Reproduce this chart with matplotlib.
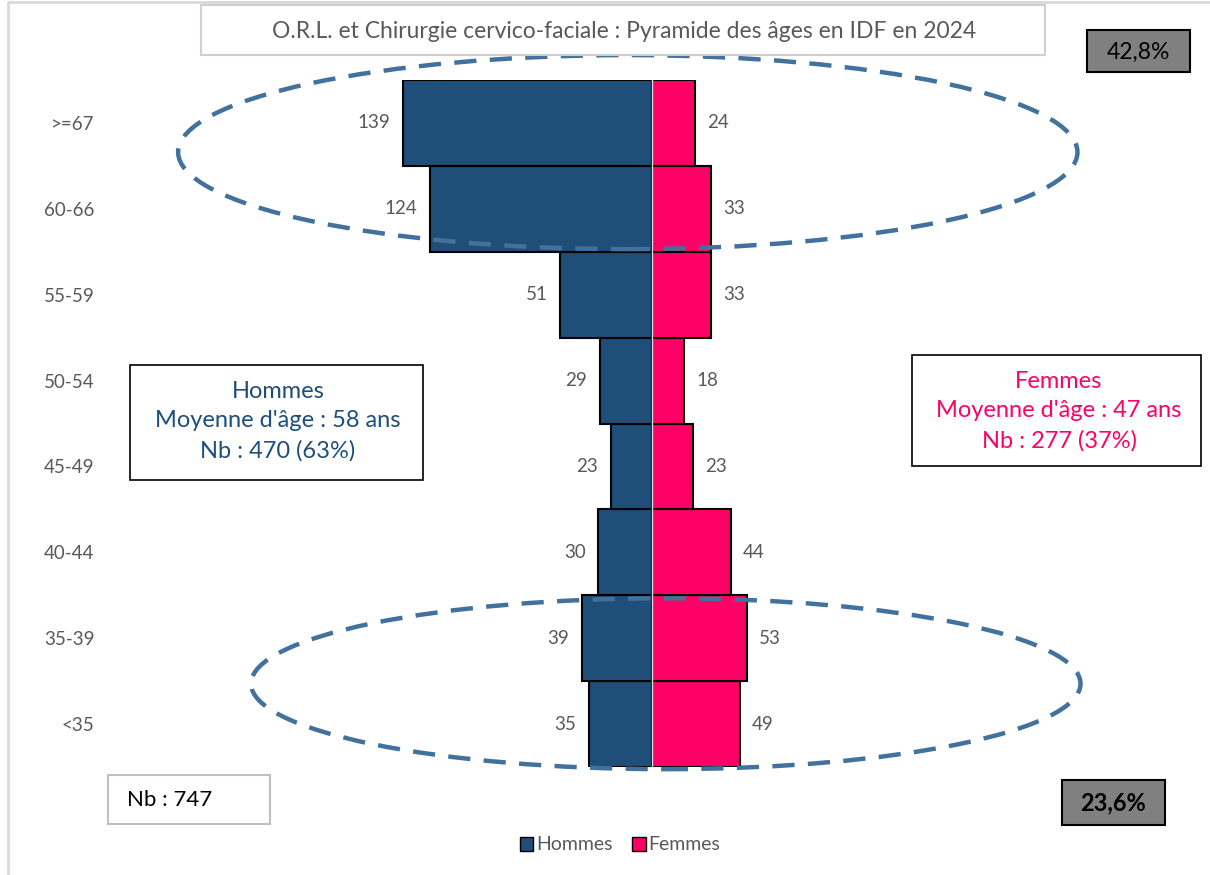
import matplotlib.pyplot as plt
from matplotlib.patches import Ellipse, Rectangle, Patch
from matplotlib.lines import Line2D
import numpy as np

# Données
categories = ['<35', '35-39', '40-44', '45-49', '50-54', '55-59', '60-66', '>=67']
hommes = [35, 39, 30, 23, 29, 51, 124, 139]
femmes = [49, 53, 44, 23, 18, 33, 33, 24]

titre = "O.R.L. et Chirurgie cervico-faciale : Pyramide des âges en IDF en 2024"
texte_hommes = "Hommes\nMoyenne d'âge : 58 ans\nNb : 470 (63%)"
texte_femmes = "Femmes\nMoyenne d'âge : 47 ans\nNb : 277 (37%)"
texte_total = "Nb : 747"
pct_haut = "42,8%"
pct_bas = "23,6%"

bleu = '#1F4E79'
rose = '#FF0066'
gris_txt = '#595959'
bleu_ell = '#41719C'

plt.rcParams['font.family'] = ['Lato', 'DejaVu Sans']

W, H = 1210, 875
fig = plt.figure(figsize=(W / 100, H / 100), dpi=100)

def fx(px):
    return px / W

def fy(py):
    return 1 - py / H

ax = fig.add_axes([fx(100), fy(767), fx(1200) - fx(100), fy(80) - fy(767)])

y = np.arange(len(categories))
ax.barh(y, [-v for v in hommes], height=1.0, color=bleu, edgecolor='black', linewidth=1.5, zorder=2)
ax.barh(y, femmes, height=1.0, color=rose, edgecolor='black', linewidth=1.5, zorder=2)
ax.axvline(0, color='#DDDDDD', linewidth=1, zorder=3)

ax.set_xlim(-308, 306)
ax.set_ylim(-0.5, len(categories) - 0.5)

# Etiquettes de valeurs
for i in range(len(categories)):
    ax.text(-hommes[i] - 7, y[i], str(hommes[i]), ha='right', va='center',
            fontsize=13.5, color=gris_txt)
    ax.text(femmes[i] + 7, y[i], str(femmes[i]), ha='left', va='center',
            fontsize=13.5, color=gris_txt)

ax.set_yticks(y)
ax.set_yticklabels(categories, fontsize=13.5, color=gris_txt)
ax.tick_params(axis='y', length=0, pad=4)
ax.set_xticks([])
for s in ax.spines.values():
    s.set_visible(False)

# Ellipses pointillées
e1 = Ellipse((-13.4, 6.66), 502, 2.26, fill=False, edgecolor=bleu_ell,
             linewidth=3.2, linestyle=(0, (5, 3)), zorder=4, clip_on=False)
e2 = Ellipse((7.8, 0.47), 463, 1.99, fill=False, edgecolor=bleu_ell,
             linewidth=3.2, linestyle=(0, (5, 3)), zorder=4, clip_on=False)
ax.add_patch(e1)
ax.add_patch(e2)

# Cadre extérieur (haut et gauche seulement)
fig.add_artist(Line2D([fx(8), fx(8), fx(1210)], [fy(875), fy(2), fy(2)],
                      transform=fig.transFigure, color='#D9D9D9', linewidth=2))

def boite(x0, y0, x1, y1, fc='white', ec='#BFBFBF', lw=1.5):
    fig.add_artist(Rectangle((fx(x0), fy(y1)), fx(x1) - fx(x0), fy(y0) - fy(y1),
                             transform=fig.transFigure, facecolor=fc, edgecolor=ec,
                             linewidth=lw, zorder=5))

# Titre
boite(201, 5, 1045, 55, ec='#D0D0D0')
fig.text(fx(624), fy(31), titre, ha='center', va='center', fontsize=16.5, color=gris_txt, zorder=6)

# Pourcentages
boite(1087, 30, 1190, 72, fc='#808080', ec='black')
fig.text(fx(1138), fy(52), pct_haut, ha='center', va='center', fontsize=16.5, color='black', zorder=6)
boite(1062, 780, 1165, 825, fc='#808080', ec='black')
fig.text(fx(1113), fy(803), pct_bas, ha='center', va='center', fontsize=17, color='black',
         fontweight='bold', zorder=6)

# Boîtes Hommes / Femmes
boite(130, 365, 423, 480, ec='black', lw=1.2)
fig.text(fx(278), fy(421), texte_hommes, ha='center', va='center', fontsize=17, color=bleu,
         linespacing=1.5, zorder=6)
boite(912, 355, 1201, 466, ec='black', lw=1.2)
fig.text(fx(1059), fy(411), texte_femmes, ha='center', va='center', fontsize=17, color=rose,
         linespacing=1.5, zorder=6)

# Total
boite(108, 775, 270, 824, ec='#BFBFBF')
fig.text(fx(127), fy(800), texte_total, ha='left', va='center', fontsize=16, color='black', zorder=6)

# Légende
handles = [Patch(facecolor=bleu, edgecolor='black', label='Hommes'),
           Patch(facecolor=rose, edgecolor='black', label='Femmes')]
leg = fig.legend(handles=handles, loc='center', bbox_to_anchor=(fx(620), fy(845)), ncol=2,
                 frameon=False, fontsize=14, handlelength=0.7, handleheight=0.7,
                 handletextpad=0.15, columnspacing=1.0)
for t in leg.get_texts():
    t.set_color(gris_txt)

fig.savefig('out.png', dpi=100)
